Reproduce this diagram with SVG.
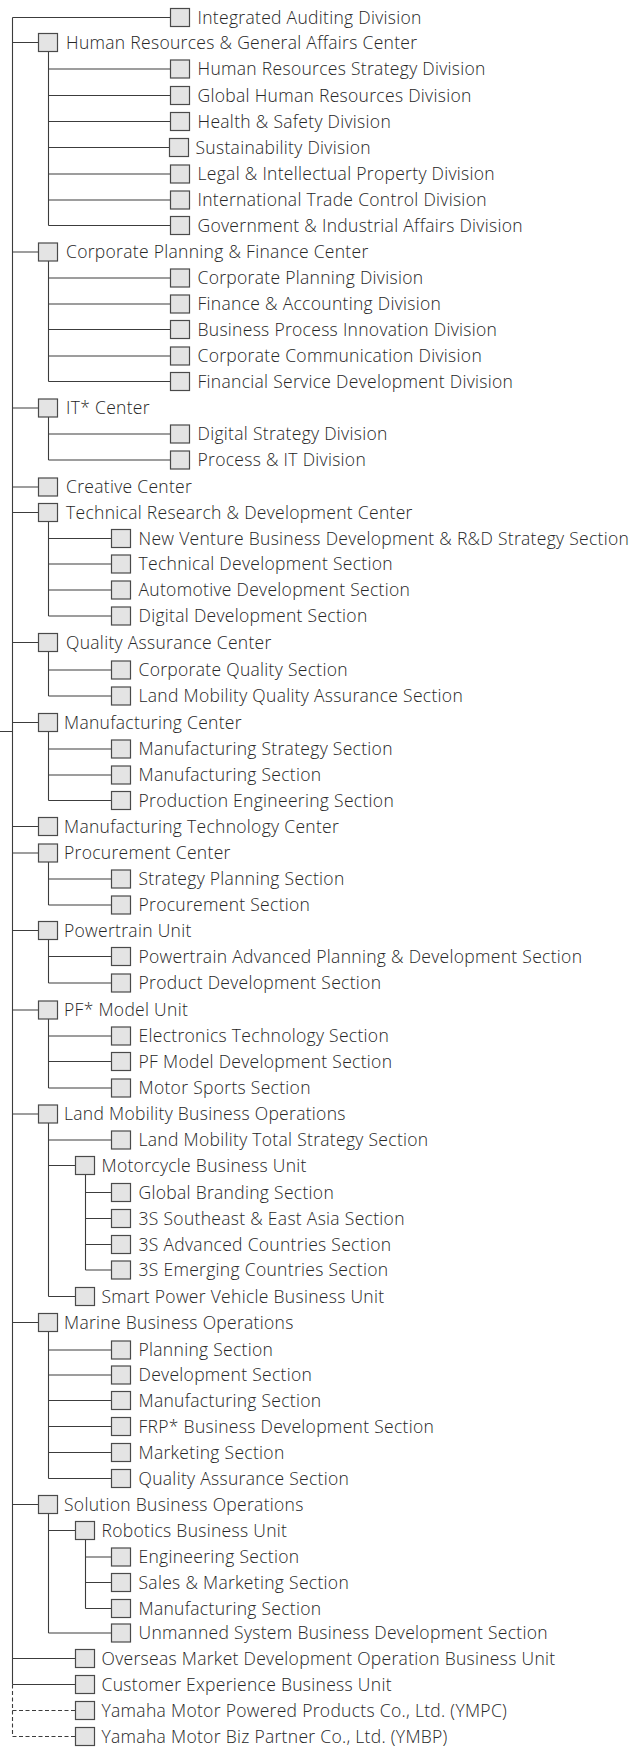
<svg xmlns="http://www.w3.org/2000/svg" width="641" height="1748" viewBox="0 0 641 1748">
<style>
.bg{fill:#ffffff}
.c{fill:none;stroke:#3c3c3c;stroke-width:1.1}
.d{fill:none;stroke:#3c3c3c;stroke-width:1.1;stroke-dasharray:4 2.5}
.n rect{fill:#e4e4e4;stroke:#4a4a4a;stroke-width:1.2}
.n text{font-family:"Open Sans","Liberation Sans",sans-serif;font-weight:300;font-size:17.5px;letter-spacing:0.3px;fill:#262626}
</style>
<rect class="bg" x="0" y="0" width="641" height="1748"/>
<g id="connectors">
<path class="c" d="M0 731.5H12.5M12.5 17.5V1684.5M12.5 17.5H170.5M12.5 42.5H38.5M12.5 252H38.5M12.5 408H38.5M12.5 487H38.5M12.5 512.5H38.5M12.5 642.5H38.5M12.5 722.5H38.5M12.5 826.5H38.5M12.5 853H38.5M12.5 930.5H38.5M12.5 1010H38.5M12.5 1114H38.5M12.5 1322.5H38.5M12.5 1504.5H38.5M12.5 1658.5H75.5M12.5 1684.5H75.5"/>
<path class="d" d="M12.5 1684.5V1736.5M12.5 1710.5H75.5M12.5 1736.5H75.5"/>
<path class="c" d="M48.5 51.5V225.5M48.5 69H170.5M48.5 95.5H170.5M48.5 121.5H170.5M48.5 147.5H170.5M48.5 174H170.5M48.5 200H170.5M48.5 225.5H170.5"/>
<path class="c" d="M48.5 261V381.5M48.5 278H170.5M48.5 304H170.5M48.5 329.5H170.5M48.5 356H170.5M48.5 381.5H170.5"/>
<path class="c" d="M48.5 417V460M48.5 434H170.5M48.5 460H170.5"/>
<path class="c" d="M48.5 521.5V616M48.5 538.5H111.5M48.5 564H111.5M48.5 590H111.5M48.5 616H111.5"/>
<path class="c" d="M48.5 651.5V696M48.5 670H111.5M48.5 696H111.5"/>
<path class="c" d="M48.5 731.5V800.5M48.5 749H111.5M48.5 775H111.5M48.5 800.5H111.5"/>
<path class="c" d="M48.5 862V905M48.5 879H111.5M48.5 905H111.5"/>
<path class="c" d="M48.5 939.5V983M48.5 956.5H111.5M48.5 983H111.5"/>
<path class="c" d="M48.5 1019V1088M48.5 1036H111.5M48.5 1061.5H111.5M48.5 1088H111.5"/>
<path class="c" d="M48.5 1123V1296.5M48.5 1140H111.5M48.5 1165.5H75.5M48.5 1296.5H75.5"/>
<path class="c" d="M85.5 1174.5V1270M85.5 1192.5H111.5M85.5 1218.5H111.5M85.5 1244.5H111.5M85.5 1270H111.5"/>
<path class="c" d="M48.5 1331.5V1478.5M48.5 1350H111.5M48.5 1375H111.5M48.5 1400.5H111.5M48.5 1426.5H111.5M48.5 1452.5H111.5M48.5 1478.5H111.5"/>
<path class="c" d="M48.5 1513.5V1633M48.5 1530.5H75.5M48.5 1633H111.5"/>
<path class="c" d="M85.5 1539.5V1608.5M85.5 1557H111.5M85.5 1582.5H111.5M85.5 1608.5H111.5"/>
</g>
<g id="n01" class="n"><rect x="170.5" y="8.5" width="19" height="18"/><text x="197.5" y="23.5">Integrated Auditing Division</text></g>
<g id="n02" class="n"><rect x="38.5" y="33.5" width="19" height="18"/><text x="66" y="48.5">Human Resources &amp; General Affairs Center</text></g>
<g id="n03" class="n"><rect x="170.5" y="60" width="19" height="18"/><text x="197.5" y="75">Human Resources Strategy Division</text></g>
<g id="n04" class="n"><rect x="170.5" y="86.5" width="19" height="18"/><text x="197.5" y="101.5">Global Human Resources Division</text></g>
<g id="n05" class="n"><rect x="170.5" y="112.5" width="19" height="18"/><text x="197.5" y="127.5">Health &amp; Safety Division</text></g>
<g id="n06" class="n"><rect x="169.5" y="138.5" width="19" height="18"/><text x="195.5" y="153.5">Sustainability Division</text></g>
<g id="n07" class="n"><rect x="170.5" y="165" width="19" height="18"/><text x="197.5" y="180">Legal &amp; Intellectual Property Division</text></g>
<g id="n08" class="n"><rect x="170.5" y="191" width="19" height="18"/><text x="197.5" y="206">International Trade Control Division</text></g>
<g id="n09" class="n"><rect x="170.5" y="216.5" width="19" height="18"/><text x="197.5" y="231.5">Government &amp; Industrial Affairs Division</text></g>
<g id="n10" class="n"><rect x="38.5" y="243" width="19" height="18"/><text x="66" y="258">Corporate Planning &amp; Finance Center</text></g>
<g id="n11" class="n"><rect x="170.5" y="269" width="19" height="18"/><text x="197.5" y="284">Corporate Planning Division</text></g>
<g id="n12" class="n"><rect x="170.5" y="295" width="19" height="18"/><text x="197.5" y="310">Finance &amp; Accounting Division</text></g>
<g id="n13" class="n"><rect x="170.5" y="320.5" width="19" height="18"/><text x="197.5" y="335.5">Business Process Innovation Division</text></g>
<g id="n14" class="n"><rect x="170.5" y="347" width="19" height="18"/><text x="197.5" y="362">Corporate Communication Division</text></g>
<g id="n15" class="n"><rect x="170.5" y="372.5" width="19" height="18"/><text x="197.5" y="387.5">Financial Service Development Division</text></g>
<g id="n16" class="n"><rect x="38.5" y="399" width="19" height="18"/><text x="66" y="414">IT* Center</text></g>
<g id="n17" class="n"><rect x="170.5" y="425" width="19" height="18"/><text x="197.5" y="440">Digital Strategy Division</text></g>
<g id="n18" class="n"><rect x="170.5" y="451" width="19" height="18"/><text x="197.5" y="466">Process &amp; IT Division</text></g>
<g id="n19" class="n"><rect x="38.5" y="478" width="19" height="18"/><text x="66" y="493">Creative Center</text></g>
<g id="n20" class="n"><rect x="38.5" y="503.5" width="19" height="18"/><text x="66" y="518.5">Technical Research &amp; Development Center</text></g>
<g id="n21" class="n"><rect x="111.5" y="529.5" width="19" height="18"/><text x="138.5" y="544.5">New Venture Business Development &amp; R&amp;D Strategy Section</text></g>
<g id="n22" class="n"><rect x="111.5" y="555" width="19" height="18"/><text x="138.5" y="570">Technical Development Section</text></g>
<g id="n23" class="n"><rect x="111.5" y="581" width="19" height="18"/><text x="138.5" y="596">Automotive Development Section</text></g>
<g id="n24" class="n"><rect x="111.5" y="607" width="19" height="18"/><text x="138.5" y="622">Digital Development Section</text></g>
<g id="n25" class="n"><rect x="38.5" y="633.5" width="19" height="18"/><text x="66" y="648.5">Quality Assurance Center</text></g>
<g id="n26" class="n"><rect x="111.5" y="661" width="19" height="18"/><text x="138.5" y="676">Corporate Quality Section</text></g>
<g id="n27" class="n"><rect x="111.5" y="687" width="19" height="18"/><text x="138.5" y="702">Land Mobility Quality Assurance Section</text></g>
<g id="n28" class="n"><rect x="38.5" y="713.5" width="19" height="18"/><text x="64" y="728.5">Manufacturing Center</text></g>
<g id="n29" class="n"><rect x="111.5" y="740" width="19" height="18"/><text x="138.5" y="755">Manufacturing Strategy Section</text></g>
<g id="n30" class="n"><rect x="111.5" y="766" width="19" height="18"/><text x="138.5" y="781">Manufacturing Section</text></g>
<g id="n31" class="n"><rect x="111.5" y="791.5" width="19" height="18"/><text x="138.5" y="806.5">Production Engineering Section</text></g>
<g id="n32" class="n"><rect x="38.5" y="817.5" width="19" height="18"/><text x="64" y="832.5">Manufacturing Technology Center</text></g>
<g id="n33" class="n"><rect x="38.5" y="844" width="19" height="18"/><text x="64" y="859">Procurement Center</text></g>
<g id="n34" class="n"><rect x="111.5" y="870" width="19" height="18"/><text x="138.5" y="885">Strategy Planning Section</text></g>
<g id="n35" class="n"><rect x="111.5" y="896" width="19" height="18"/><text x="138.5" y="911">Procurement Section</text></g>
<g id="n36" class="n"><rect x="38.5" y="921.5" width="19" height="18"/><text x="64" y="936.5">Powertrain Unit</text></g>
<g id="n37" class="n"><rect x="111.5" y="947.5" width="19" height="18"/><text x="138.5" y="962.5">Powertrain Advanced Planning &amp; Development Section</text></g>
<g id="n38" class="n"><rect x="111.5" y="974" width="19" height="18"/><text x="138.5" y="989">Product Development Section</text></g>
<g id="n39" class="n"><rect x="38.5" y="1001" width="19" height="18"/><text x="64" y="1016">PF* Model Unit</text></g>
<g id="n40" class="n"><rect x="111.5" y="1027" width="19" height="18"/><text x="138.5" y="1042">Electronics Technology Section</text></g>
<g id="n41" class="n"><rect x="111.5" y="1052.5" width="19" height="18"/><text x="138.5" y="1067.5">PF Model Development Section</text></g>
<g id="n42" class="n"><rect x="111.5" y="1079" width="19" height="18"/><text x="138.5" y="1094">Motor Sports Section</text></g>
<g id="n43" class="n"><rect x="38.5" y="1105" width="19" height="18"/><text x="64" y="1120">Land Mobility Business Operations</text></g>
<g id="n44" class="n"><rect x="111.5" y="1131" width="19" height="18"/><text x="138.5" y="1146">Land Mobility Total Strategy Section</text></g>
<g id="n45" class="n"><rect x="75.5" y="1156.5" width="19" height="18"/><text x="101.5" y="1171.5">Motorcycle Business Unit</text></g>
<g id="n46" class="n"><rect x="111.5" y="1183.5" width="19" height="18"/><text x="138.5" y="1198.5">Global Branding Section</text></g>
<g id="n47" class="n"><rect x="111.5" y="1209.5" width="19" height="18"/><text x="138.5" y="1224.5">3S Southeast &amp; East Asia Section</text></g>
<g id="n48" class="n"><rect x="111.5" y="1235.5" width="19" height="18"/><text x="138.5" y="1250.5">3S Advanced Countries Section</text></g>
<g id="n49" class="n"><rect x="111.5" y="1261" width="19" height="18"/><text x="138.5" y="1276">3S Emerging Countries Section</text></g>
<g id="n50" class="n"><rect x="75.5" y="1287.5" width="19" height="18"/><text x="101.5" y="1302.5">Smart Power Vehicle Business Unit</text></g>
<g id="n51" class="n"><rect x="38.5" y="1313.5" width="19" height="18"/><text x="64" y="1328.5">Marine Business Operations</text></g>
<g id="n52" class="n"><rect x="111.5" y="1341" width="19" height="18"/><text x="138.5" y="1356">Planning Section</text></g>
<g id="n53" class="n"><rect x="111.5" y="1366" width="19" height="18"/><text x="138.5" y="1381">Development Section</text></g>
<g id="n54" class="n"><rect x="111.5" y="1391.5" width="19" height="18"/><text x="138.5" y="1406.5">Manufacturing Section</text></g>
<g id="n55" class="n"><rect x="111.5" y="1417.5" width="19" height="18"/><text x="138.5" y="1432.5">FRP* Business Development Section</text></g>
<g id="n56" class="n"><rect x="111.5" y="1443.5" width="19" height="18"/><text x="138.5" y="1458.5">Marketing Section</text></g>
<g id="n57" class="n"><rect x="111.5" y="1469.5" width="19" height="18"/><text x="138.5" y="1484.5">Quality Assurance Section</text></g>
<g id="n58" class="n"><rect x="38.5" y="1495.5" width="19" height="18"/><text x="64" y="1510.5">Solution Business Operations</text></g>
<g id="n59" class="n"><rect x="75.5" y="1521.5" width="19" height="18"/><text x="101.5" y="1536.5">Robotics Business Unit</text></g>
<g id="n60" class="n"><rect x="111.5" y="1548" width="19" height="18"/><text x="138.5" y="1563">Engineering Section</text></g>
<g id="n61" class="n"><rect x="111.5" y="1573.5" width="19" height="18"/><text x="138.5" y="1588.5">Sales &amp; Marketing Section</text></g>
<g id="n62" class="n"><rect x="111.5" y="1599.5" width="19" height="18"/><text x="138.5" y="1614.5">Manufacturing Section</text></g>
<g id="n63" class="n"><rect x="111.5" y="1624" width="19" height="18"/><text x="138.5" y="1639">Unmanned System Business Development Section</text></g>
<g id="n64" class="n"><rect x="75.5" y="1649.5" width="19" height="18"/><text x="101.5" y="1664.5">Overseas Market Development Operation Business Unit</text></g>
<g id="n65" class="n"><rect x="75.5" y="1675.5" width="19" height="18"/><text x="101.5" y="1690.5">Customer Experience Business Unit</text></g>
<g id="n66" class="n"><rect x="75.5" y="1701.5" width="19" height="18"/><text x="101.5" y="1716.5">Yamaha Motor Powered Products Co., Ltd. (YMPC)</text></g>
<g id="n67" class="n"><rect x="75.5" y="1727.5" width="19" height="18"/><text x="101.5" y="1742.5">Yamaha Motor Biz Partner Co., Ltd. (YMBP)</text></g>
</svg>
